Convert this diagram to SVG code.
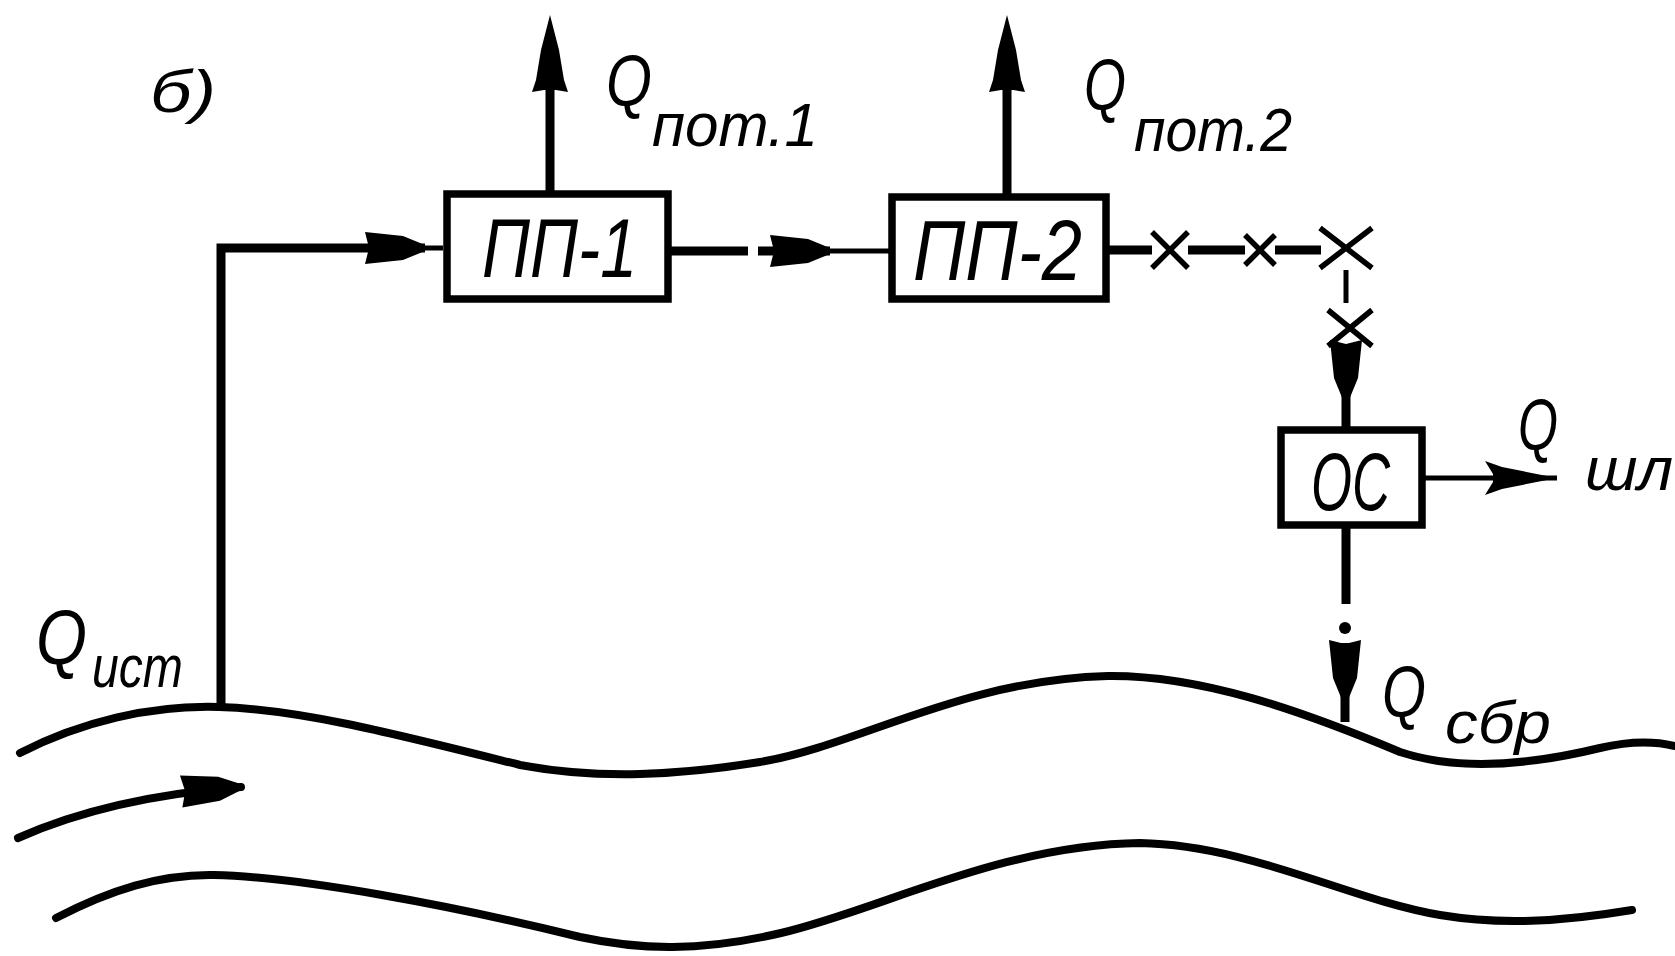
<svg xmlns="http://www.w3.org/2000/svg" width="1675" height="956" viewBox="0 0 1675 956">
<style>
.box{fill:#fff;stroke:#000;stroke-width:7.5}
.ln{fill:none;stroke:#000;stroke-width:9}
.thin{fill:none;stroke:#000;stroke-width:5}
.riv{fill:none;stroke:#000;stroke-width:8;stroke-linecap:round}
.t{font-family:"Liberation Sans",Arial,sans-serif;font-style:italic;fill:#000}
.xs{fill:none;stroke:#000;stroke-width:5.5}
</style>
<defs>
<marker id="aLong" markerUnits="userSpaceOnUse" markerWidth="120" markerHeight="60" refX="0" refY="0" viewBox="-70 -30 120 60" orient="auto" overflow="visible">
<path d="M25,0 L-10,-9 L-40,-14 L-52,-18 L-50,-6 L-50,6 L-52,18 L-40,14 L-10,9 Z" fill="#000"/>
</marker>
<marker id="aShort" markerUnits="userSpaceOnUse" markerWidth="80" markerHeight="40" refX="0" refY="0" viewBox="-70 -20 80 40" orient="auto" overflow="visible">
<path d="M0,-3 L-22,-12 L-60,-16 L-56,0 L-60,16 L-22,12 L0,3 Z" fill="#000"/>
</marker>
<marker id="aBarb" markerUnits="userSpaceOnUse" markerWidth="100" markerHeight="40" refX="0" refY="0" viewBox="-80 -20 100 40" orient="auto" overflow="visible">
<path d="M0,0 L-55,-11 L-72,-17 L-64,-4 L-64,4 L-72,17 L-55,11 Z" fill="#000"/>
</marker>
</defs>

<g id="river">
<path class="riv" d="M20,753 C80,722 150,705 219,707 C300,709 400,735 520,765 C600,780 680,775 760,762 C860,745 960,680 1108,676 C1200,675 1300,710 1400,752 C1460,772 1530,765 1600,748 C1625,742 1650,740 1675,746"/>
<path class="riv" d="M56,918 C110,890 160,874 214,875 C300,877 450,905 580,937 C640,950 700,952 781,933 C880,910 1000,845 1140,843 C1250,845 1350,900 1440,915 C1500,925 1560,922 1632,910"/>
<path class="riv" d="M18,838 Q110,797 241,787" marker-end="url(#aShort)"/>
</g>

<g id="label-b">
<text class="t" x="150" y="112" font-size="60" textLength="66" lengthAdjust="spacingAndGlyphs">б)</text>
</g>

<g id="connectors">
<polyline class="ln" points="221,707 221,248 425,248" marker-end="url(#aShort)"/>
<line class="thin" x1="425" y1="248" x2="443" y2="248"/>
<line class="ln" x1="550" y1="194" x2="550" y2="40" marker-end="url(#aLong)"/>
<line class="ln" x1="1007" y1="197" x2="1007" y2="40" marker-end="url(#aLong)"/>
<line class="ln" x1="671" y1="251" x2="748" y2="251"/>
<line class="ln" x1="758" y1="251" x2="830" y2="251" marker-end="url(#aShort)"/>
<line class="thin" x1="830" y1="251" x2="889" y2="251"/>
<line class="ln" x1="1109" y1="250" x2="1152" y2="250"/>
<line class="ln" x1="1188" y1="250" x2="1245" y2="250"/>
<line class="ln" x1="1275" y1="250" x2="1321" y2="250"/>
<path class="xs" d="M1152,232 L1188,268 M1152,268 L1188,232"/>
<path class="xs" d="M1245,235 L1275,265 M1245,265 L1275,235"/>
<path class="xs" d="M1320,228 L1372,268 M1320,268 L1372,228"/>
<line class="thin" x1="1346" y1="270" x2="1346" y2="303"/>
<path class="xs" d="M1328,310 L1372,346 M1328,346 L1372,310"/>
<line class="ln" x1="1346" y1="355" x2="1346" y2="400" marker-end="url(#aShort)"/>
<line class="ln" x1="1346" y1="400" x2="1346" y2="427"/>
<line class="thin" x1="1425" y1="478" x2="1557" y2="478" marker-end="url(#aBarb)"/>
<line class="ln" x1="1346" y1="528" x2="1346" y2="604"/>
<circle cx="1345" cy="628" r="6" fill="#000"/>
<line class="ln" x1="1345" y1="643" x2="1345" y2="700" marker-end="url(#aShort)"/>
<line class="ln" x1="1345" y1="700" x2="1345" y2="722"/>
</g>

<g id="PP1">
<rect class="box" x="447" y="194" width="221" height="105"/>
<text class="t" x="482" y="277" font-size="84" textLength="155" lengthAdjust="spacingAndGlyphs">ПП-1</text>
</g>
<g id="PP2">
<rect class="box" x="892" y="197" width="214" height="102"/>
<text class="t" x="913" y="280" font-size="86" textLength="169" lengthAdjust="spacingAndGlyphs">ПП-2</text>
</g>
<g id="OS">
<rect class="box" x="1281" y="430" width="141" height="95"/>
<text class="t" x="1311" y="510" font-size="82" textLength="79" lengthAdjust="spacingAndGlyphs">ОС</text>
</g>

<g id="labels">
<text class="t" x="606" y="106" font-size="72" textLength="46" lengthAdjust="spacingAndGlyphs">Q</text>
<text class="t" x="652" y="146" font-size="62" textLength="166" lengthAdjust="spacingAndGlyphs">пот.1</text>
<text class="t" x="1084" y="110" font-size="72" textLength="42" lengthAdjust="spacingAndGlyphs">Q</text>
<text class="t" x="1134" y="151" font-size="62" textLength="158" lengthAdjust="spacingAndGlyphs">пот.2</text>
<text class="t" x="1518" y="450" font-size="72" textLength="40" lengthAdjust="spacingAndGlyphs">Q</text>
<text class="t" x="1585" y="490" font-size="62" textLength="88" lengthAdjust="spacingAndGlyphs">шл</text>
<text class="t" x="1382" y="717" font-size="72" textLength="44" lengthAdjust="spacingAndGlyphs">Q</text>
<text class="t" x="1445" y="743" font-size="60" textLength="106" lengthAdjust="spacingAndGlyphs">сбр</text>
<text class="t" x="36" y="664" font-size="78" textLength="51" lengthAdjust="spacingAndGlyphs">Q</text>
<text class="t" x="92" y="687" font-size="60" textLength="91" lengthAdjust="spacingAndGlyphs">ист</text>
</g>
</svg>
